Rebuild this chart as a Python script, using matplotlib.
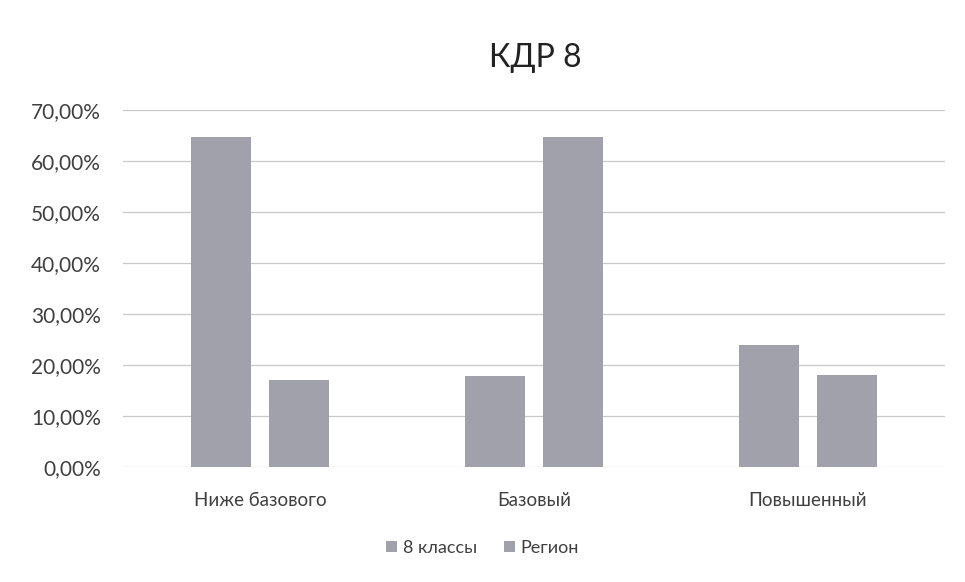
import matplotlib
matplotlib.use("Agg")
import matplotlib.pyplot as plt
import numpy as np
from matplotlib.ticker import FuncFormatter

plt.rcParams['font.family'] = ['Lato', 'DejaVu Sans']

categories = ["Ниже базового", "Базовый", "Повышенный"]
klassy8 = [64.7, 17.8, 24.0]
region = [17.0, 64.7, 18.1]
series_names = ["8 классы", "Регион"]
yticks = [0, 10, 20, 30, 40, 50, 60, 70]

bar_color = "#a1a1ab"
text_color = "#404040"

fig = plt.figure(figsize=(9.65, 5.82), dpi=100)
ax = fig.add_axes([123 / 965, 1 - 467 / 582, (945 - 123) / 965, (467 - 110) / 582])

x = np.arange(len(categories))
w = 0.219
off = 0.142
ax.bar(x - off, klassy8, width=w, color=bar_color, label=series_names[0], zorder=3)
ax.bar(x + off, region, width=w, color=bar_color, label=series_names[1], zorder=3)

ax.set_xlim(-0.5, len(categories) - 0.5)
ax.set_ylim(0, 70)
ax.set_yticks(yticks)
ax.yaxis.set_major_formatter(FuncFormatter(lambda v, p: ("%.2f%%" % v).replace(".", ",")))
ax.set_xticks(x)
ax.set_xticklabels(categories)
ax.tick_params(axis="both", length=0, colors=text_color)
ax.tick_params(axis="y", labelsize=15, pad=16)
ax.tick_params(axis="x", labelsize=13.5, pad=18)
ax.grid(axis="y", color="#c8c8c8", linewidth=0.9, zorder=0)
for s in ax.spines.values():
    s.set_visible(False)

fig.text(535 / 965, 1 - 58 / 582, "КДР 8", ha="center", va="center", fontsize=23, color="#222222")

ax.legend(loc="center", bbox_to_anchor=(0.5, 1 - 548 / 582), bbox_transform=fig.transFigure,
          ncol=2, frameon=False, fontsize=13, handlelength=0.6, handleheight=0.6,
          handletextpad=0.3, columnspacing=1.5, labelcolor=text_color)

fig.savefig("out.png", dpi=100, facecolor="white")
